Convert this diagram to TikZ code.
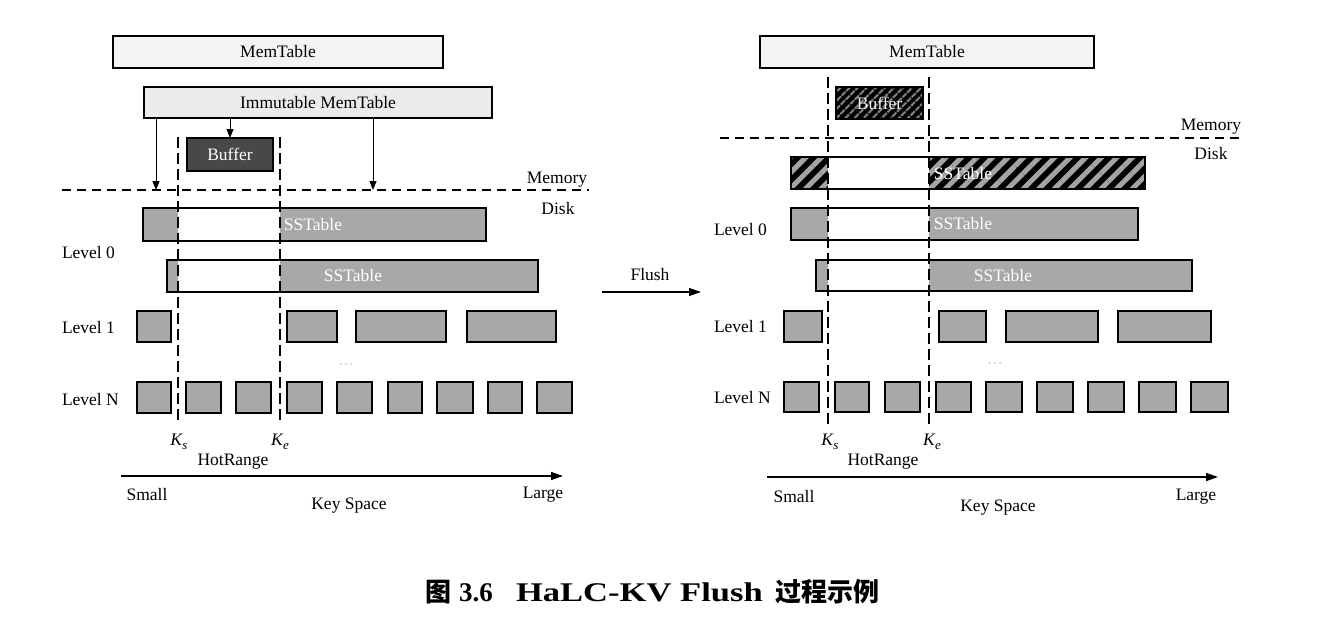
\documentclass[tikz,border=0pt]{standalone}
\usepackage{graphicx}
\usepackage{fontspec}
\setmainfont{Liberation Serif}
\newfontfamily\cjk{Noto Sans CJK SC}
\usetikzlibrary{arrows.meta,patterns.meta}
\definecolor{boxgray}{HTML}{A8A8A8}
\definecolor{memgray}{HTML}{F3F3F3}
\definecolor{immgray}{HTML}{EBEBEB}
\definecolor{bufgray}{HTML}{484848}
\definecolor{stripe}{HTML}{A4A4A4}
\definecolor{stripedark}{HTML}{8A8A8A}
\definecolor{dotgray}{HTML}{808080}
\begin{document}
\begin{tikzpicture}[x=1pt,y=-1pt,
  every node/.style={font=\fontsize{17.5}{20}\selectfont, inner sep=0pt, outer sep=0pt},
  box/.style={draw, line width=1.3pt, anchor=north west},
  membox/.style={box, fill=memgray},
  immbox/.style={box, fill=immgray},
  graybox/.style={box, fill=boxgray},
  bufbox/.style={box, fill=bufgray, text=white},
  hatchbig/.style={box, preaction={fill=black}, pattern={Lines[angle=45,distance=11pt,line width=5pt]}, pattern color=stripe},
  hatchsmall/.style={box, preaction={fill=black}, pattern={Lines[angle=45,distance=6.5pt,line width=2.2pt]}, pattern color=stripedark},
  sstext/.style={text=white},
  lbl/.style={anchor=west},
  vdash/.style={line width=1.4pt, dash pattern=on 11pt off 5pt},
  hdash/.style={line width=1.3pt, dash pattern=on 9pt off 6pt},
  arr/.style={line width=1pt, -{Triangle[length=9pt,width=7pt]}},
  axis/.style={line width=1.4pt, -{Triangle[length=12pt,width=8pt]}},
]
\useasboundingbox (0,0) rectangle (1339,621);
\fill[white] (0,0) rectangle (1339,621);

% ================= LEFT PANEL =================
\node[membox, minimum width=330pt, minimum height=32pt] (memL) at (113,36) {MemTable};
\node[immbox, minimum width=348pt, minimum height=31pt] (immL) at (144,87) {Immutable MemTable};
\node[bufbox, minimum width=86pt, minimum height=33pt] (bufL) at (187,138) {Buffer};

% SSTables
\node[graybox, minimum width=343pt, minimum height=33pt] (ssL1) at (143,208) {};
\node[graybox, minimum width=371pt, minimum height=32pt] (ssL2) at (167,260) {};
\fill[white] (178,208.7) rectangle (280,240.3);
\fill[white] (178,260.7) rectangle (280,291.3);
\draw[line width=1.3pt] (178,208) -- (280,208) (178,241) -- (280,241);
\draw[line width=1.3pt] (178,260) -- (280,260) (178,292) -- (280,292);
\node[sstext] (ssL1t) at (313,225) {SSTable};
\node[sstext] (ssL2t) at (353,276) {SSTable};

% Level 1
\foreach \x/\w [count=\i] in {137/34,287/50,356/90,467/89}
  \node[graybox, minimum width=\w pt, minimum height=31pt] (l1L\i) at (\x,311) {};
% Level N
\foreach \x/\w [count=\i] in {137/34,186/35,236/35,287/35,337/35,388/34,437/36,488/34,537/35}
  \node[graybox, minimum width=\w pt, minimum height=31pt] (lnL\i) at (\x,382) {};
\node[text=dotgray] (dotsL) at (346,365) {\fontsize{12}{12}\selectfont$\cdots$};

% labels
\node[lbl] (lv0L) at (62,253) {Level 0};
\node[lbl] (lv1L) at (62,328) {Level 1};
\node[lbl] (lvNL) at (62,400) {Level N};

% memory/disk line
\coordinate (mlA) at (62,190);
\coordinate (mlB) at (589,190);
\draw[hdash] (mlA) -- (mlB);
\node (memlabL) at (557,180) {Memory};
\node (disklabL) at (558,209) {Disk};

% arrows from immutable memtable
\coordinate (a1) at (156,190);
\coordinate (a3) at (373,190);
\draw[arr] (immL.south -| a1) -- (a1);
\draw[arr] (immL.south -| bufL.north) -- (bufL.north);
\draw[arr] (immL.south -| a3) -- (a3);

% hot range dashed verticals
\coordinate (ksLt) at (178,137);
\coordinate (ksLb) at (178,424);
\coordinate (keLt) at (280,137);
\coordinate (keLb) at (280,424);
\draw[vdash] (ksLt) -- (ksLb);
\draw[vdash] (keLt) -- (keLb);
\node (ksL) at (179,442) {\itshape K\kern0.3pt\raisebox{-3.5pt}{\fontsize{13}{13}\selectfont s}};
\node (keL) at (280,442) {\itshape K\kern0.3pt\raisebox{-3.5pt}{\fontsize{13}{13}\selectfont e}};
\node (hrL) at (233,462) {HotRange};

% key space axis
\coordinate (axLa) at (121,476);
\coordinate (axLb) at (563,476);
\draw[axis] (axLa) -- (axLb);
\node (smallL) at (147,495) {Small};
\node (largeL) at (543,495) {Large};
\node (kspL) at (349,506) {Key Space};

% ================= FLUSH ARROW =================
\coordinate (flA) at (602,292);
\coordinate (flB) at (701,292);
\draw[axis, line width=1.2pt] (flA) -- (flB);
\node (flush) at (650,275) {Flush};

% ================= RIGHT PANEL =================
\node[membox, minimum width=334pt, minimum height=32pt] (memR) at (760,36) {MemTable};
\node[hatchsmall, minimum width=87pt, minimum height=32pt] (bufR) at (836,87) {};
\node[text=white!90!gray] (bufRt) at (879.5,103) {Buffer};

\node[hatchbig, minimum width=354pt, minimum height=32pt] (ssR0) at (791,157) {};
\node[graybox, minimum width=347pt, minimum height=32pt] (ssR1) at (791,208) {};
\node[graybox, minimum width=376pt, minimum height=31pt] (ssR2) at (816,260) {};
\fill[white] (828,157.7) rectangle (929,188.3);
\fill[white] (828,208.7) rectangle (929,239.3);
\fill[white] (828,260.7) rectangle (929,290.3);
\draw[line width=1.3pt] (828,157) -- (929,157) (828,189) -- (929,189);
\draw[line width=1.3pt] (828,208) -- (929,208) (828,240) -- (929,240);
\draw[line width=1.3pt] (828,260) -- (929,260) (828,291) -- (929,291);
\node[sstext] (ssR0t) at (963,174) {SSTable};
\node[sstext] (ssR1t) at (963,224) {SSTable};
\node[sstext] (ssR2t) at (1003,276) {SSTable};

\foreach \x/\w [count=\i] in {784/38,939/47,1006/92,1118/93}
  \node[graybox, minimum width=\w pt, minimum height=31pt] (l1R\i) at (\x,311) {};
\foreach \x/\w [count=\i] in {784/35,835/34,885/35,936/35,986/36,1037/36,1088/36,1139/37,1191/37}
  \node[graybox, minimum width=\w pt, minimum height=30pt] (lnR\i) at (\x,382) {};
\node[text=dotgray] (dotsR) at (995,364) {\fontsize{12}{12}\selectfont$\cdots$};

\node[lbl] (lv0R) at (714,230) {Level 0};
\node[lbl] (lv1R) at (714,327) {Level 1};
\node[lbl] (lvNR) at (714,398) {Level N};

\coordinate (mrA) at (720,138);
\coordinate (mrB) at (1240,138);
\draw[hdash] (mrA) -- (mrB);
\node (memlabR) at (1211,127) {Memory};
\node (disklabR) at (1211,154) {Disk};

\coordinate (ksRt) at (828,77);
\coordinate (ksRb) at (828,424);
\coordinate (keRt) at (929,77);
\coordinate (keRb) at (929,424);
\draw[vdash] (ksRt) -- (ksRb);
\draw[vdash] (keRt) -- (keRb);
\node (ksR) at (830,442) {\itshape K\kern0.3pt\raisebox{-3.5pt}{\fontsize{13}{13}\selectfont s}};
\node (keR) at (932,442) {\itshape K\kern0.3pt\raisebox{-3.5pt}{\fontsize{13}{13}\selectfont e}};
\node (hrR) at (883,462) {HotRange};

\coordinate (axRa) at (767,477);
\coordinate (axRb) at (1218,477);
\draw[axis] (axRa) -- (axRb);
\node (smallR) at (794,497) {Small};
\node (largeR) at (1196,497) {Large};
\node (kspR) at (998,508) {Key Space};

% ================= CAPTION =================
\node[anchor=base west, font=\cjk\bfseries\fontsize{26}{30}\selectfont] (cap1) at (425,601) {图};
\node[anchor=base west, font=\bfseries\fontsize{27}{30}\selectfont] (cap2) at (459,601) {3.6};
\node[anchor=base west, font=\bfseries\fontsize{27}{30}\selectfont] (cap3) at (516,601) {\scalebox{1.28}[1]{HaLC-KV Flush}};
\node[anchor=base west, font=\cjk\bfseries\fontsize{26}{30}\selectfont] (cap4) at (775,601) {过程示例};
\end{tikzpicture}
\end{document}
